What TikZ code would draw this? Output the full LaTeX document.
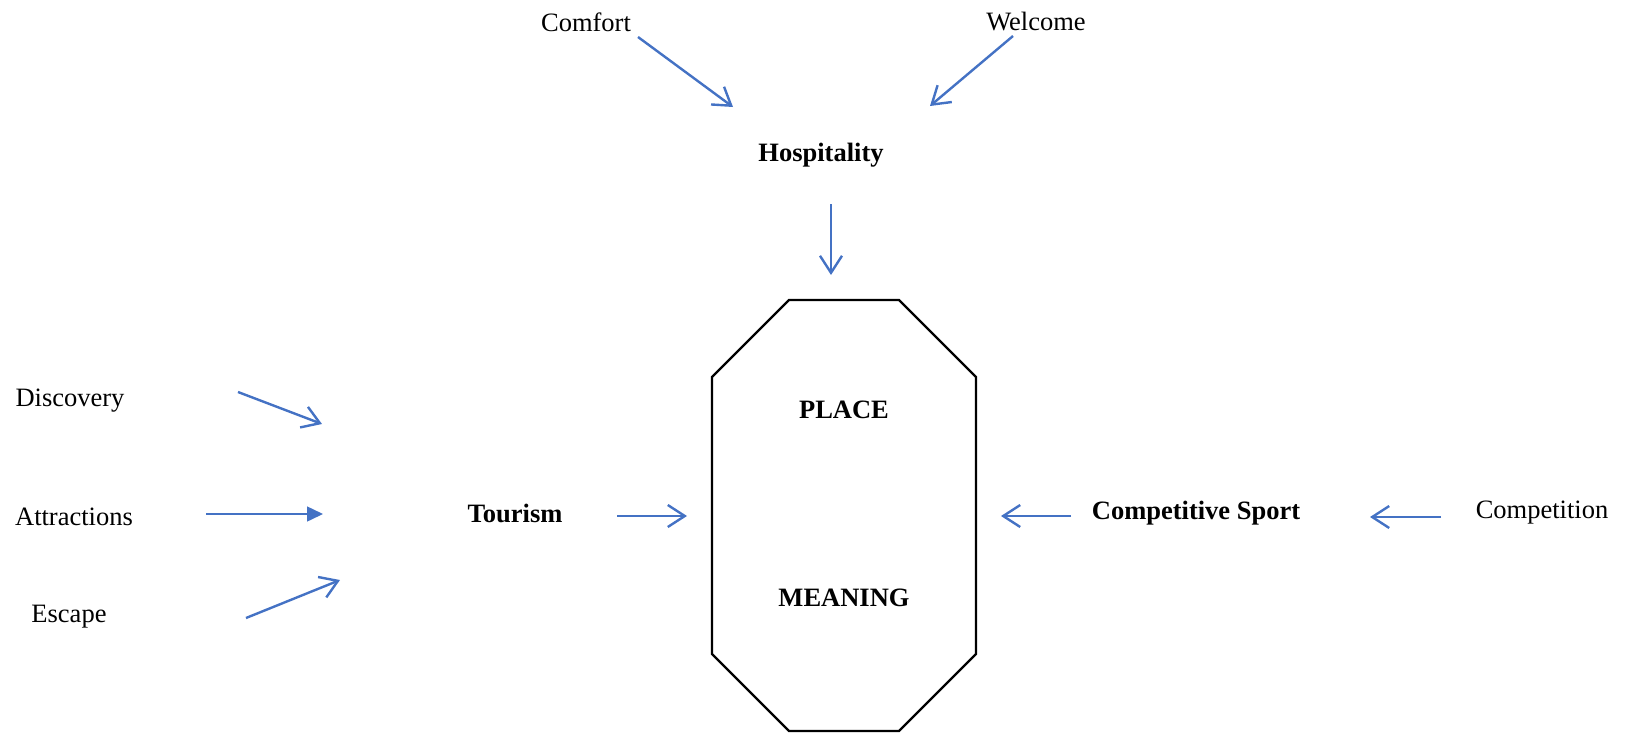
\documentclass[tikz,border=0pt]{standalone}
\usepackage{fontspec}
\setmainfont{Liberation Serif}
\usetikzlibrary{arrows.meta}
\definecolor{arrowblue}{HTML}{4472C4}
\begin{document}
\begin{tikzpicture}[x=1pt,y=-1pt,
  lbl/.style={inner sep=0pt,font=\fontsize{26.5}{31}\selectfont},
  key/.style={lbl,font=\fontsize{26.5}{31}\selectfont\bfseries},
  link/.style={draw=arrowblue,line width=2.4pt,-{Straight Barb[length=17pt,width=22pt,line width=2.4pt]}},
  solidlink/.style={draw=arrowblue,line width=1.5pt,-{Triangle[length=16pt,width=15pt]},fill=arrowblue},
  outline/.style={draw=black,line width=2.4pt,line join=miter}]
\useasboundingbox (0,0) rectangle (1625,734);

% central octagon
\coordinate (o1) at (789,300);
\coordinate (o2) at (899,300);
\coordinate (o3) at (976,377);
\coordinate (o4) at (976,654);
\coordinate (o5) at (899,731);
\coordinate (o6) at (789,731);
\coordinate (o7) at (712,654);
\coordinate (o8) at (712,377);
\draw[outline] (o1) -- (o2) -- (o3) -- (o4) -- (o5) -- (o6) -- (o7) -- (o8) -- cycle;
\node[key] (place) at (844,410) {PLACE};
\node[key] (meaning) at (844,598) {MEANING};

% hospitality branch
\node[lbl] (comfort) at (586,22) {Comfort};
\node[lbl] (welcome) at (1036,22) {Welcome};
\node[key] (hosp) at (821,155) {Hospitality};
\coordinate (c1) at (638,37);  \coordinate (c2) at (733,107);
\coordinate (w1) at (1013,36); \coordinate (w2) at (930,106);
\coordinate (h1) at (831,204); \coordinate (h2) at (831,275);
\draw[link] (c1) -- (c2);
\draw[link] (w1) -- (w2);
\draw[link] (h1) -- (h2);

% tourism branch
\node[lbl] (disc) at (70,401) {Discovery};
\node[lbl] (attr) at (74,517) {Attractions};
\node[lbl] (esc) at (69,617) {Escape};
\node[key] (tour) at (515,513) {Tourism};
\coordinate (d1) at (238,392); \coordinate (d2) at (322,424);
\coordinate (a1) at (206,514); \coordinate (a2) at (323,514);
\coordinate (e1) at (246,618); \coordinate (e2) at (340,580);
\coordinate (t1) at (617,516); \coordinate (t2) at (687,516);
\draw[link] (d1) -- (d2);
\draw[solidlink] (a1) -- (a2);
\draw[link] (e1) -- (e2);
\draw[link] (t1) -- (t2);

% sport branch
\node[key] (sport) at (1196,513) {Competitive Sport};
\node[lbl] (comp) at (1542,513) {Competition};
\coordinate (s1) at (1071,516); \coordinate (s2) at (1001,516);
\coordinate (p1) at (1441,517); \coordinate (p2) at (1370,517);
\draw[link] (s1) -- (s2);
\draw[link] (p1) -- (p2);
\end{tikzpicture}
\end{document}
